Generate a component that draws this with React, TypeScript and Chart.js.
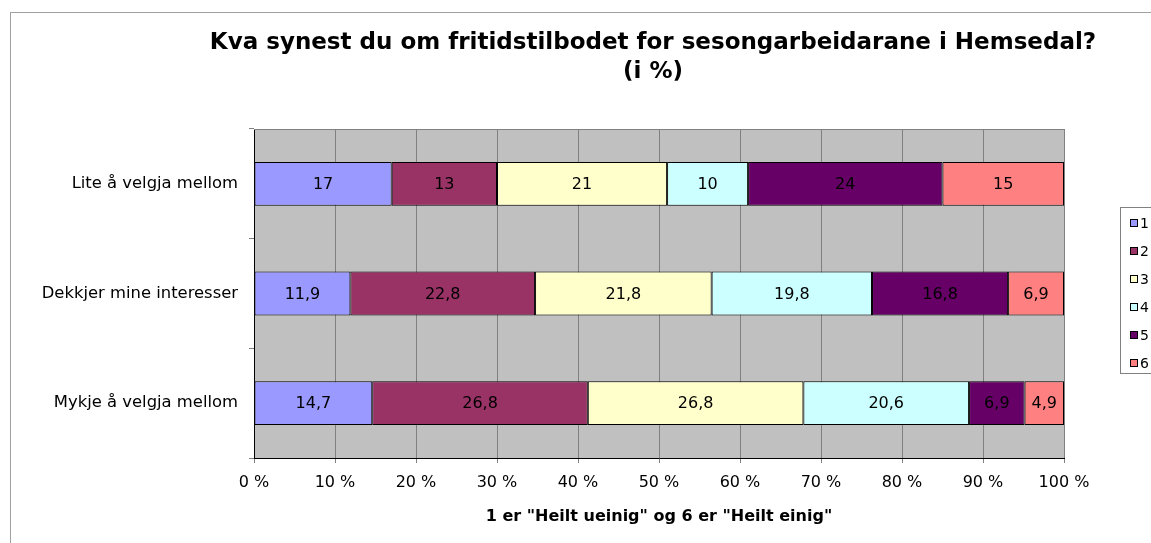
import React, { useEffect, useRef } from "react";
import { Chart, registerables } from "chart.js";

Chart.register(...registerables);

const categories = ["Lite å velgja mellom", "Dekkjer mine interesser", "Mykje å velgja mellom"];
const seriesNames = ["1", "2", "3", "4", "5", "6"];
const series1 = [17, 11.9, 14.7];
const series2 = [13, 22.8, 26.8];
const series3 = [21, 21.8, 26.8];
const series4 = [10, 19.8, 20.6];
const series5 = [24, 16.8, 6.9];
const series6 = [15, 6.9, 4.9];
const seriesColors = ["#9999FF", "#993366", "#FFFFCC", "#CCFFFF", "#660066", "#FF8080"];
const titleLines = ["Kva synest du om fritidstilbodet for sesongarbeidarane i Hemsedal?", "(i %)"];
const xAxisTitle = '1 er "Heilt ueinig" og 6 er "Heilt einig"';
const xMin = 0;
const xMax = 100;
const xStep = 10;

const FONT = "'DejaVu Sans', Verdana, sans-serif";

export default function App() {
  const ref = useRef<HTMLCanvasElement | null>(null);

  useEffect(() => {
    const canvas = ref.current;
    if (!canvas) return;
    const allSeries = [series1, series2, series3, series4, series5, series6];
    const totals = categories.map((_, i) => allSeries.reduce((s, arr) => s + arr[i], 0));
    const datasets = allSeries.map((arr, k) => ({
      label: seriesNames[k],
      data: arr.map((v, i) => (v / totals[i]) * 100),
      rawValues: arr,
      backgroundColor: seriesColors[k],
      borderColor: "#000000",
      borderWidth: 1,
      borderSkipped: false as const,
      barPercentage: 0.4,
      categoryPercentage: 1,
    }));

    const plotBg = {
      id: "plotBg",
      beforeDraw(chart: any) {
        const { ctx, chartArea: a } = chart;
        ctx.save();
        ctx.fillStyle = "#C0C0C0";
        ctx.fillRect(a.left, a.top, a.right - a.left, a.bottom - a.top);
        ctx.restore();
      },
      beforeDatasetsDraw(chart: any) {
        const { ctx, chartArea: a } = chart;
        ctx.save();
        ctx.strokeStyle = "#808080";
        ctx.lineWidth = 1;
        ctx.beginPath();
        const y = Math.round(a.top) + 0.5;
        ctx.moveTo(a.left, y);
        ctx.lineTo(a.right, y);
        ctx.stroke();
        ctx.restore();
      },
    };

    const dataLabels = {
      id: "dataLabels",
      afterDatasetsDraw(chart: any) {
        const { ctx } = chart;
        ctx.save();
        ctx.font = `16px ${FONT}`;
        ctx.fillStyle = "#000000";
        ctx.textAlign = "center";
        ctx.textBaseline = "middle";
        chart.data.datasets.forEach((ds: any, di: number) => {
          const meta = chart.getDatasetMeta(di);
          meta.data.forEach((el: any, i: number) => {
            const raw = ds.rawValues[i];
            const txt = String(raw).replace(".", ",");
            ctx.fillText(txt, (el.x + el.base) / 2, el.y + 1);
          });
        });
        ctx.restore();
      },
    };

    const decor = {
      id: "decor",
      afterDraw(chart: any) {
        const { ctx } = chart;
        ctx.save();
        // title
        ctx.font = `bold 23px ${FONT}`;
        ctx.fillStyle = "#000000";
        ctx.textAlign = "center";
        ctx.textBaseline = "middle";
        ctx.fillText(titleLines[0], 653, 43);
        ctx.fillText(titleLines[1], 653, 72);
        // legend
        ctx.strokeStyle = "#808080";
        ctx.lineWidth = 1;
        ctx.strokeRect(1120.5, 207.5, 60, 166);
        ctx.font = `14px ${FONT}`;
        ctx.textAlign = "left";
        chart.data.datasets.forEach((ds: any, k: number) => {
          const yc = 223 + k * 28;
          ctx.fillStyle = ds.backgroundColor;
          ctx.fillRect(1130, yc - 4, 8, 8);
          ctx.strokeStyle = "#000000";
          ctx.strokeRect(1130.5, yc - 3.5, 7, 7);
          ctx.fillStyle = "#000000";
          ctx.fillText(ds.label, 1140, yc + 1);
        });
        ctx.restore();
      },
    };

    const chart = new Chart(canvas, {
      type: "bar",
      data: { labels: categories, datasets: datasets as any },
      options: {
        indexAxis: "y",
        animation: false,
        responsive: false,
        maintainAspectRatio: false,
        layout: { padding: { top: 129, right: 87, bottom: 0, left: 0 } },
        plugins: {
          legend: { display: false },
          title: { display: false },
          tooltip: { enabled: false },
        },
        scales: {
          x: {
            type: "linear",
            stacked: true,
            min: xMin,
            max: xMax,
            ticks: {
              stepSize: xStep,
              color: "#000000",
              font: { family: FONT, size: 16 },
              padding: 10,
              callback: (v: any) => `${v} %`,
            },
            grid: {
              color: "#808080",
              lineWidth: 1,
              tickLength: 5,
              tickColor: "#808080",
            },
            border: { color: "#000000", width: 1 },
            title: {
              display: true,
              text: xAxisTitle,
              color: "#000000",
              font: { family: FONT, size: 16, weight: "bold" },
              padding: { top: 0, bottom: 17 },
            },
            afterFit(scale: any) {
              scale.height = 85;
            },
          } as any,
          y: {
            type: "category",
            stacked: true,
            ticks: {
              color: "#000000",
              font: { family: FONT, size: 16.4 },
              padding: 11,
            },
            grid: {
              offset: true,
              drawOnChartArea: false,
              tickLength: 5,
              color: "#808080",
              tickColor: "#808080",
            },
            border: { color: "#000000", width: 1 },
            afterFit(scale: any) {
              scale.width = 254;
            },
          } as any,
        },
      },
      plugins: [plotBg, dataLabels, decor],
    });
    return () => chart.destroy();
  }, []);

  return (
    <div style={{ position: "absolute", left: 0, top: 0, width: 1151, height: 543, background: "#ffffff" }}>
      <div
        style={{
          position: "absolute",
          left: 10,
          top: 12,
          width: 1141,
          height: 531,
          borderTop: "1px solid #a0a0a0",
          borderLeft: "1px solid #a0a0a0",
          boxSizing: "border-box",
        }}
      />
      <canvas ref={ref} width={1151} height={543} style={{ position: "absolute", left: 0, top: 0, width: 1151, height: 543 }} />
    </div>
  );
}
